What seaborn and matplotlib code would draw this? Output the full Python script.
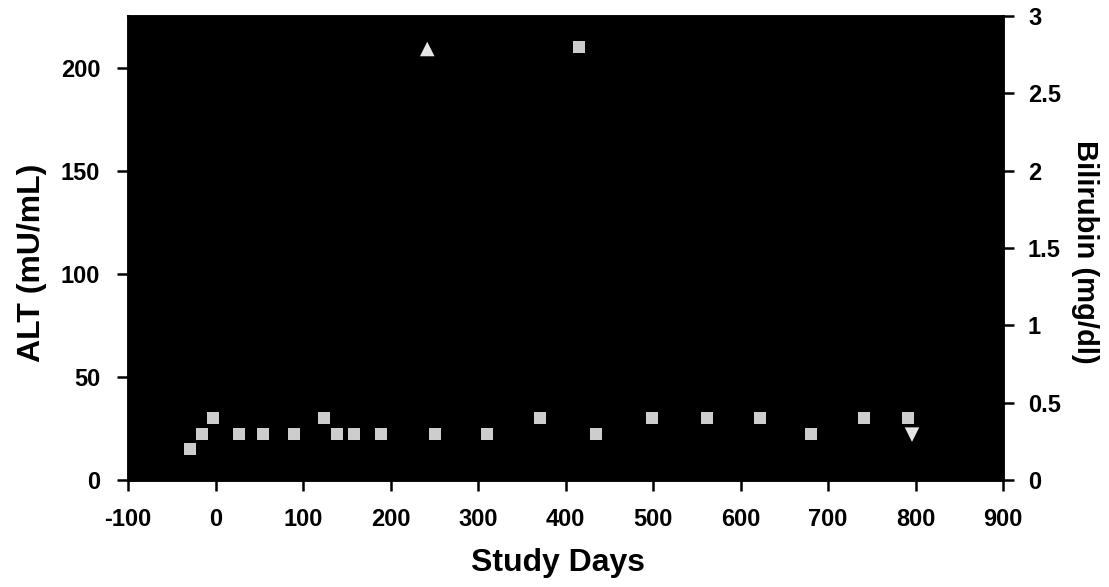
import numpy as np
import pandas as pd
import matplotlib
matplotlib.use("Agg")
import matplotlib.pyplot as plt
import seaborn as sns

sns.set_style("ticks")
plt.rcParams['font.family'] = ['Liberation Sans', 'DejaVu Sans']
plt.rcParams['font.weight'] = 'bold'
plt.rcParams['axes.unicode_minus'] = False
plt.rcParams['text.color'] = 'black'
plt.rcParams['axes.labelcolor'] = 'black'
plt.rcParams['xtick.color'] = 'black'
plt.rcParams['ytick.color'] = 'black'

# bilirubin (mg/dl), grey squares on the right axis
BILI_DAYS = [-29, -15, -3, 27, 54, 90, 124, 139, 158, 189, 251, 310, 371,
             415, 435, 499, 562, 622, 681, 741, 791]
BILI_VALS = [0.2, 0.3, 0.4, 0.3, 0.3, 0.3, 0.4, 0.3, 0.3, 0.3, 0.3, 0.3, 0.4,
             2.8, 0.3, 0.4, 0.4, 0.4, 0.3, 0.4, 0.4]

# ALT (mU/mL), the two visible triangles on the left axis
ALT_UP_DAYS = [242]
ALT_UP_VALS = [209]
ALT_DOWN_DAYS = [796]
ALT_DOWN_VALS = [22]

X_TICKS = [-100, 0, 100, 200, 300, 400, 500, 600, 700, 800, 900]
ALT_TICKS = [0, 50, 100, 150, 200]
BILI_TICKS = [0, 0.5, 1, 1.5, 2, 2.5, 3]
BILI_LABELS = ["0", "0.5", "1", "1.5", "2", "2.5", "3"]

bili = pd.DataFrame({"day": BILI_DAYS, "bili": BILI_VALS})
alt_up = pd.DataFrame({"day": ALT_UP_DAYS, "alt": ALT_UP_VALS})
alt_down = pd.DataFrame({"day": ALT_DOWN_DAYS, "alt": ALT_DOWN_VALS})

fig = plt.figure(figsize=(11.09, 5.87), dpi=100)
ax = fig.add_axes([128/1109, 1 - 480/587, (1003-128)/1109, (480-16)/587])
ax.set_facecolor("black")

sns.scatterplot(data=alt_up, x="day", y="alt", marker="^", s=110,
                color="#e6e6e6", edgecolor="none", ax=ax, zorder=3)
sns.scatterplot(data=alt_down, x="day", y="alt", marker="v", s=110,
                color="#e6e6e6", edgecolor="none", ax=ax, zorder=3)

ax.set_xlim(-100, 900)
ax.set_ylim(0, 225)
ax.set_xticks(X_TICKS)
ax.set_yticks(ALT_TICKS)
ax.tick_params(axis="both", direction="out", length=8, width=1.8,
               labelsize=17, pad=12)
for lab in ax.get_xticklabels() + ax.get_yticklabels():
    lab.set_fontweight("bold")
ax.set_xlabel("Study Days", fontsize=23, fontweight="bold", va="center")
ax.set_ylabel("ALT (mU/mL)", fontsize=23, fontweight="bold", va="center")
ax.xaxis.set_label_coords(0.491, -0.179)
ax.yaxis.set_label_coords(-0.1097, 0.468)

ax2 = ax.twinx()
sns.scatterplot(data=bili, x="day", y="bili", marker="s", s=75,
                color="#cdcdcd", edgecolor="none", ax=ax2, zorder=3)
ax2.set_ylim(0, 3)
ax2.set_yticks(BILI_TICKS)
ax2.set_yticklabels(BILI_LABELS)
ax2.tick_params(axis="y", direction="out", length=8, width=1.8,
                labelsize=17, pad=10)
for lab in ax2.get_yticklabels():
    lab.set_fontweight("bold")
ax2.set_ylabel("Bilirubin (mg/dl)", fontsize=21, fontweight="bold",
               rotation=-90, va="center")
ax2.yaxis.set_label_coords(1.0937, 0.491)
ax2.set_xlabel("")

for a in (ax, ax2):
    for sp in a.spines.values():
        sp.set_color("black")
        sp.set_linewidth(1.8)

fig.savefig("out.png", dpi=100)
